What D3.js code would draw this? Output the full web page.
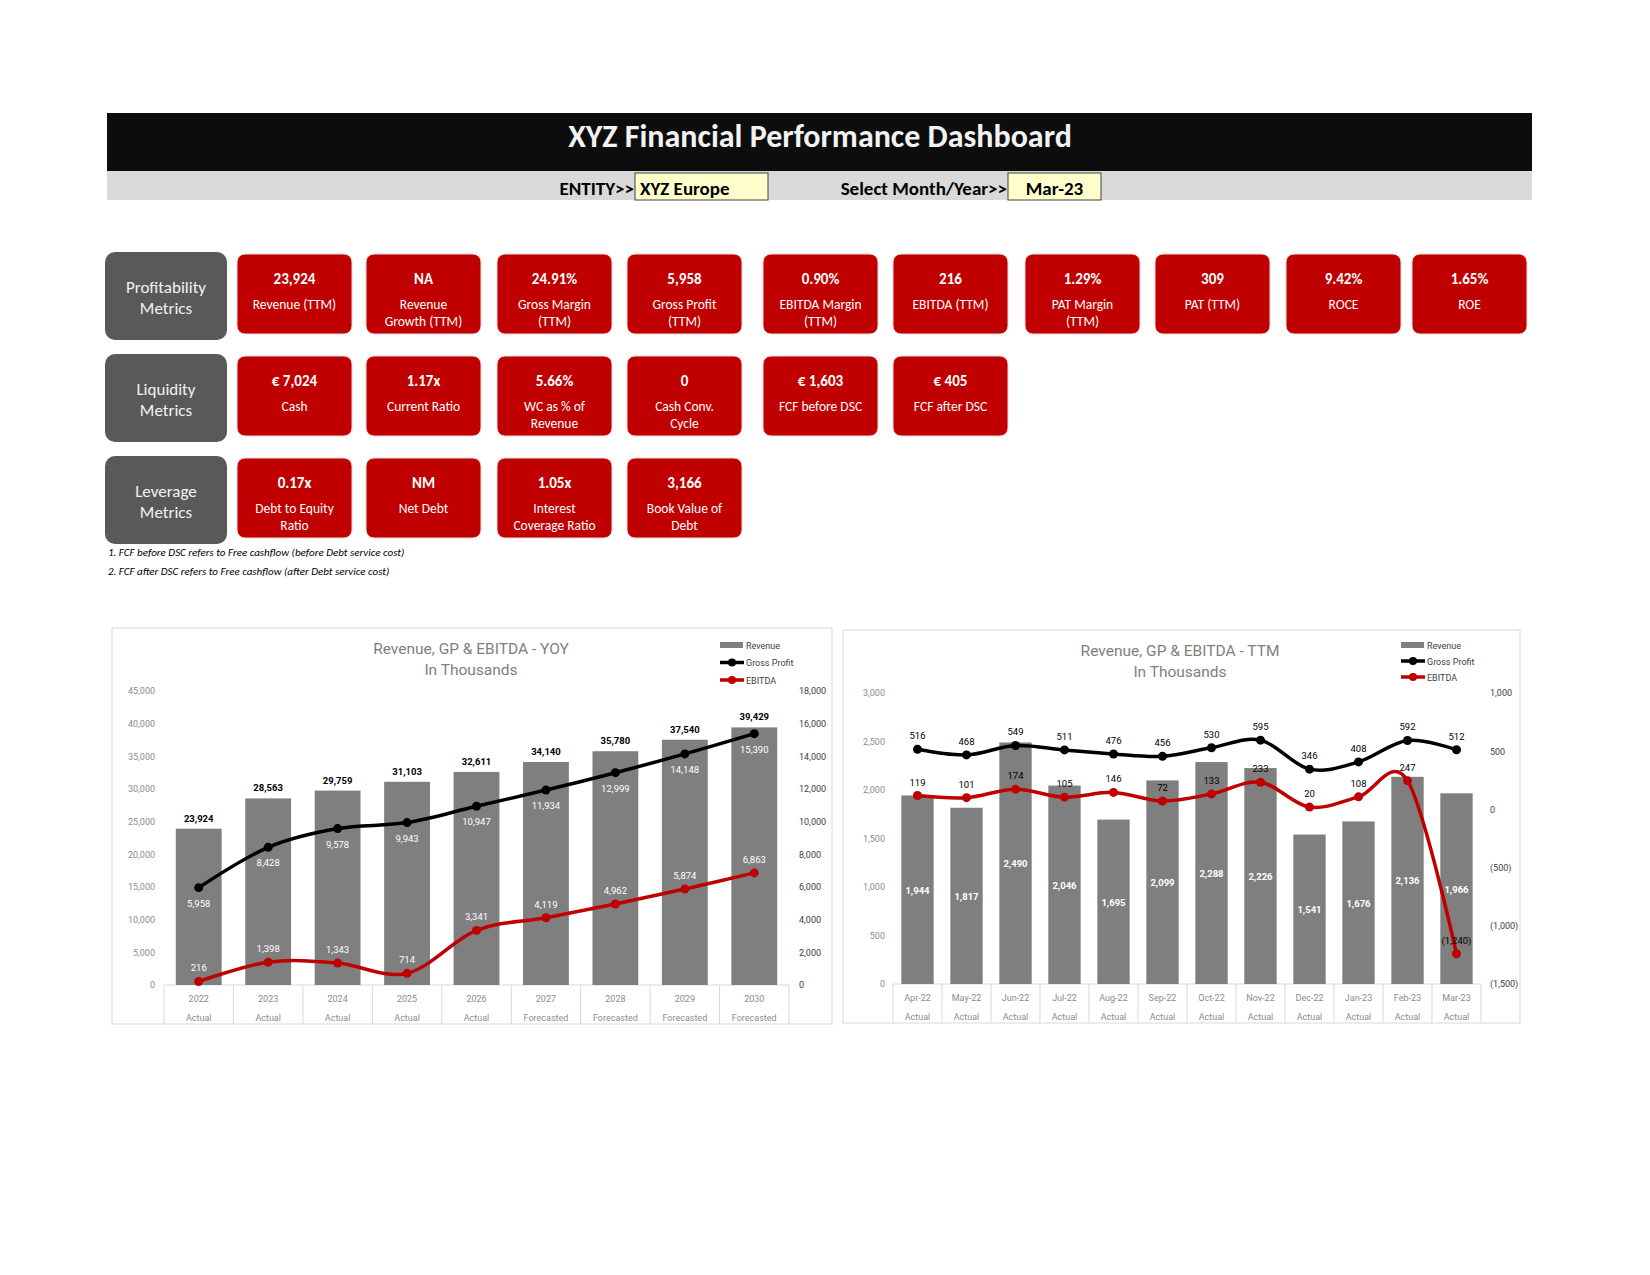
<!DOCTYPE html>
<html>
<head>
<meta charset="utf-8">
<script src="https://cdn.jsdelivr.net/npm/d3@7"></script>
<style>
  body { margin: 0; background: #fff; }
  svg { display: block; }
  .dash { font-family: Carlito, Calibri, Lato, 'Open Sans', sans-serif; }
  .chart text { font-family: 'Liberation Sans Narrow', 'Arial Narrow', Roboto, sans-serif; }
</style>
</head>
<body>
<svg id="dash" width="1650" height="1275"></svg>
<script>
// ---- dashboard values ----
const dashTitle = 'XYZ Financial Performance Dashboard';
const entityName = 'XYZ Europe';
const periodName = 'Mar-23';

const groupNames = [['Profitability', 'Metrics'], ['Liquidity', 'Metrics'], ['Leverage', 'Metrics']];

const profitValues = ['23,924', 'NA', '24.91%', '5,958', '0.90%', '216', '1.29%', '309', '9.42%', '1.65%'];
const profitLabels = [['Revenue (TTM)'], ['Revenue', 'Growth (TTM)'], ['Gross Margin', '(TTM)'], ['Gross Profit', '(TTM)'],
  ['EBITDA Margin', '(TTM)'], ['EBITDA (TTM)'], ['PAT Margin', '(TTM)'], ['PAT (TTM)'], ['ROCE'], ['ROE']];

const liquidityValues = ['€ 7,024', '1.17x', '5.66%', '0', '€ 1,603', '€ 405'];
const liquidityLabels = [['Cash'], ['Current Ratio'], ['WC as % of', 'Revenue'], ['Cash Conv.', 'Cycle'], ['FCF before DSC'], ['FCF after DSC']];

const leverageValues = ['0.17x', 'NM', '1.05x', '3,166'];
const leverageLabels = [['Debt to Equity', 'Ratio'], ['Net Debt'], ['Interest', 'Coverage Ratio'], ['Book Value of', 'Debt']];

const footNotes = [
  '1. FCF before DSC refers to Free cashflow (before Debt service cost)',
  '2. FCF after DSC refers to Free cashflow (after Debt service cost)'
];

// ---- YOY chart ----
const yoyYears = ['2022', '2023', '2024', '2025', '2026', '2027', '2028', '2029', '2030'];
const yoyStatus = ['Actual', 'Actual', 'Actual', 'Actual', 'Actual', 'Forecasted', 'Forecasted', 'Forecasted', 'Forecasted'];
const yoyRevenue = [23924, 28563, 29759, 31103, 32611, 34140, 35780, 37540, 39429];
const yoyGrossProfit = [5958, 8428, 9578, 9943, 10947, 11934, 12999, 14148, 15390];
const yoyEbitda = [216, 1398, 1343, 714, 3341, 4119, 4962, 5874, 6863];

// ---- TTM chart ----
const ttmMonths = ['Apr-22', 'May-22', 'Jun-22', 'Jul-22', 'Aug-22', 'Sep-22', 'Oct-22', 'Nov-22', 'Dec-22', 'Jan-23', 'Feb-23', 'Mar-23'];
const ttmStatus = ['Actual', 'Actual', 'Actual', 'Actual', 'Actual', 'Actual', 'Actual', 'Actual', 'Actual', 'Actual', 'Actual', 'Actual'];
const ttmRevenue = [1944, 1817, 2490, 2046, 1695, 2099, 2288, 2226, 1541, 1676, 2136, 1966];
const ttmGrossProfit = [516, 468, 549, 511, 476, 456, 530, 595, 346, 408, 592, 512];
const ttmEbitda = [119, 101, 174, 105, 146, 72, 133, 233, 20, 108, 247, -1240];

const legendNames = ['Revenue', 'Gross Profit', 'EBITDA'];

const RED = '#c00000';
const svg = d3.select('#dash');
svg.append('rect').attr('width', 1650).attr('height', 1275).attr('fill', '#fff');

// ---- header ----
const dash = svg.append('g').attr('class', 'dash');

dash.append('rect')
  .attr('x', 107).attr('y', 113).attr('width', 1425).attr('height', 58)
  .attr('fill', '#0d0d0d');
dash.append('text')
  .attr('x', 820).attr('y', 147)
  .attr('text-anchor', 'middle')
  .attr('fill', '#f2f2f2')
  .attr('font-size', 32).attr('font-weight', 700)
  .text(dashTitle);

dash.append('rect')
  .attr('x', 107).attr('y', 171).attr('width', 1425).attr('height', 29)
  .attr('fill', '#d9d9d9');

function selector(label, labelRight, boxW, value, centered) {
  dash.append('text')
    .attr('x', labelRight).attr('y', 195)
    .attr('text-anchor', 'end')
    .attr('font-size', 19).attr('font-weight', 700)
    .text(label);
  dash.append('rect')
    .attr('x', labelRight + 1).attr('y', 173).attr('width', boxW).attr('height', 27)
    .attr('fill', '#ffffcc').attr('stroke', '#404040').attr('stroke-width', 1);
  dash.append('text')
    .attr('x', centered ? labelRight + 1 + boxW / 2 : labelRight + 6).attr('y', 195)
    .attr('text-anchor', centered ? 'middle' : 'start')
    .attr('font-size', 19).attr('font-weight', 700)
    .text(value);
}
selector('ENTITY>>', 634, 133, entityName, false);
selector('Select Month/Year>>', 1007, 93, periodName, true);

// ---- metric tiles ----
const colX = [237, 366, 497, 627, 763, 893, 1025, 1155, 1286, 1412];
const rowY = [254, 356, 458];
const tileW = 115, tileH = 80;

function drawRow(r, values, labels) {
  const gy = rowY[r] - 2;
  const head = dash.append('g');
  head.append('rect')
    .attr('x', 105).attr('y', gy).attr('width', 122).attr('height', 88)
    .attr('rx', 10).attr('fill', '#595959');
  head.selectAll('text').data(groupNames[r]).join('text')
    .attr('x', 166).attr('y', (d, i) => gy + 41 + i * 21)
    .attr('text-anchor', 'middle')
    .attr('fill', '#f2f2f2').attr('font-size', 17)
    .text(d => d);

  const tiles = dash.selectAll(null)
    .data(values.map((v, i) => ({value: v, label: labels[i], x: colX[i]})))
    .join('g')
      .attr('transform', d => `translate(${d.x},${rowY[r]})`);

  tiles.append('rect')
    .attr('width', tileW).attr('height', tileH)
    .attr('rx', 8).attr('fill', RED)
    .attr('stroke', '#f4d9d9').attr('stroke-width', 1);

  tiles.append('text')
    .attr('x', tileW / 2).attr('y', 30)
    .attr('text-anchor', 'middle')
    .attr('fill', '#fff').attr('font-size', 15).attr('font-weight', 700)
    .text(d => d.value);

  tiles.each(function (d) {
    d3.select(this).selectAll('text.lbl').data(d.label).join('text')
      .attr('class', 'lbl')
      .attr('x', tileW / 2).attr('y', (t, i) => 55 + i * 17)
      .attr('text-anchor', 'middle')
      .attr('fill', '#fff').attr('font-size', 13.5)
      .text(t => t);
  });
}
drawRow(0, profitValues, profitLabels);
drawRow(1, liquidityValues, liquidityLabels);
drawRow(2, leverageValues, leverageLabels);

dash.selectAll('text.note').data(footNotes).join('text')
  .attr('class', 'note')
  .attr('x', 108).attr('y', (d, i) => 556 + i * 19)
  .attr('font-size', 11).attr('font-style', 'italic')
  .text(d => d);

// ---- combo charts ----
const fmt = d3.format(',');
const fmtNeg = v => v < 0 ? `(${fmt(-v)})` : fmt(v);

function drawChart(o) {
  const g = svg.append('g').attr('class', 'chart');

  g.append('rect')
    .attr('x', o.frame[0]).attr('y', o.frame[1])
    .attr('width', o.frame[2] - o.frame[0]).attr('height', o.frame[3] - o.frame[1])
    .attr('fill', '#fff').attr('stroke', '#d9d9d9');

  g.selectAll('text.title').data(o.title).join('text')
    .attr('class', 'title')
    .attr('x', o.titleX).attr('y', (d, i) => o.frame[1] + 26 + i * 21)
    .attr('text-anchor', 'middle')
    .attr('fill', '#7f7f7f').attr('font-size', 15.5)
    .text(d => d);

  const x = d3.scaleBand().domain(o.cats).range([o.x0, o.x1])
    .paddingInner(0.34).paddingOuter(0.17);
  const yL = d3.scaleLinear().domain(o.leftDomain).range([o.yBase, o.yTop]);
  const yR = d3.scaleLinear().domain(o.rightDomain).range([o.yBase, o.yTop]);
  const cx = c => x(c) + x.bandwidth() / 2;

  // axes
  const left = g.append('g')
    .attr('transform', `translate(${o.leftLabelX},0)`)
    .call(d3.axisLeft(yL).tickValues(d3.range(o.leftDomain[0], o.leftDomain[1] + 1, o.leftStep))
      .tickFormat(fmt).tickSize(0).tickPadding(0));
  left.select('.domain').remove();
  left.selectAll('text').attr('fill', '#8c8c8c').attr('font-size', 9);

  const right = g.append('g')
    .attr('transform', `translate(${o.rightLabelX},0)`)
    .call(d3.axisRight(yR).tickValues(d3.range(o.rightDomain[0], o.rightDomain[1] + 1, o.rightStep))
      .tickFormat(fmtNeg).tickSize(0).tickPadding(0));
  right.select('.domain').remove();
  right.selectAll('text').attr('fill', '#404040').attr('font-size', 9);

  // category table under the plot
  const step = x.step();
  g.append('line')
    .attr('x1', o.x0).attr('x2', o.x1).attr('y1', o.yBase).attr('y2', o.yBase)
    .attr('stroke', '#d9d9d9');
  g.selectAll('line.sep').data(d3.range(o.cats.length + 1)).join('line')
    .attr('class', 'sep')
    .attr('x1', i => o.x0 + i * step).attr('x2', i => o.x0 + i * step)
    .attr('y1', o.yBase).attr('y2', o.frame[3])
    .attr('stroke', '#d9d9d9');
  g.selectAll('text.cat').data(o.cats).join('text')
    .attr('class', 'cat')
    .attr('x', cx).attr('y', o.yBase + 17)
    .attr('text-anchor', 'middle').attr('fill', '#8c8c8c').attr('font-size', 9)
    .text(d => d);
  g.selectAll('text.status').data(o.status).join('text')
    .attr('class', 'status')
    .attr('x', (d, i) => cx(o.cats[i])).attr('y', o.yBase + 36)
    .attr('text-anchor', 'middle').attr('fill', '#8c8c8c').attr('font-size', 9)
    .text(d => d);

  // revenue bars
  g.selectAll('rect.bar').data(o.revenue).join('rect')
    .attr('class', 'bar')
    .attr('x', (d, i) => x(o.cats[i]))
    .attr('y', d => yL(d))
    .attr('width', x.bandwidth())
    .attr('height', d => o.yBase - yL(d))
    .attr('fill', '#7f7f7f');

  // smoothed lines
  const line = d3.line()
    .x((d, i) => cx(o.cats[i]))
    .y(d => yR(d))
    .curve(d3.curveCardinal.tension(0));

  [[o.gp, '#000'], [o.ebitda, RED]].forEach(([vals, col]) => {
    g.append('path')
      .attr('d', line(vals))
      .attr('fill', 'none').attr('stroke', col).attr('stroke-width', 3.5)
      .attr('stroke-linecap', 'round');
    g.selectAll(null).data(vals).join('circle')
      .attr('cx', (d, i) => cx(o.cats[i])).attr('cy', d => yR(d))
      .attr('r', 4.5).attr('fill', col);
  });

  // data labels
  g.selectAll(null).data(o.revenue).join('text')
    .attr('x', (d, i) => cx(o.cats[i]))
    .attr('y', d => o.revInside ? (yL(d) + o.yBase) / 2 + 4 : yL(d) - 7)
    .attr('text-anchor', 'middle')
    .attr('fill', o.revInside ? '#fff' : '#000')
    .attr('font-size', 9.5).attr('font-weight', 700)
    .text(d => fmt(d));

  g.selectAll(null).data(o.gp).join('text')
    .attr('x', (d, i) => cx(o.cats[i]))
    .attr('y', d => yR(d) + o.gpDy)
    .attr('text-anchor', 'middle')
    .attr('fill', o.lineLabelColor).attr('font-size', 9.5)
    .text(d => fmtNeg(d));

  g.selectAll(null).data(o.ebitda).join('text')
    .attr('x', (d, i) => cx(o.cats[i]))
    .attr('y', d => yR(d) - 10)
    .attr('text-anchor', 'middle')
    .attr('fill', o.lineLabelColor).attr('font-size', 9.5)
    .text(d => fmtNeg(d));

  // legend
  const lg = g.append('g').attr('transform', `translate(${o.legend[0]},${o.legend[1]})`);
  const items = lg.selectAll('g').data(legendNames).join('g')
    .attr('transform', (d, i) => `translate(0,${i * o.legendGap})`);
  items.filter((d, i) => i === 0).append('rect')
    .attr('x', 0).attr('y', -3).attr('width', 23).attr('height', 6).attr('fill', '#7f7f7f');
  items.filter((d, i) => i > 0).append('line')
    .attr('x1', 0).attr('x2', 24).attr('y1', 0).attr('y2', 0)
    .attr('stroke', (d, i) => i === 0 ? '#000' : RED).attr('stroke-width', 3.5);
  items.filter((d, i) => i > 0).append('circle')
    .attr('cx', 12).attr('cy', 0).attr('r', 4)
    .attr('fill', (d, i) => i === 0 ? '#000' : RED);
  items.append('text')
    .attr('x', 26).attr('y', 3.5)
    .attr('fill', '#404040').attr('font-size', 9)
    .text(d => d);
}

drawChart({
  frame: [112, 628, 832, 1024],
  title: ['Revenue, GP & EBITDA - YOY', 'In Thousands'],
  titleX: 471,
  cats: yoyYears, status: yoyStatus,
  revenue: yoyRevenue, gp: yoyGrossProfit, ebitda: yoyEbitda,
  x0: 164, x1: 789, yBase: 985, yTop: 691,
  leftDomain: [0, 45000], leftStep: 5000,
  rightDomain: [0, 18000], rightStep: 2000,
  leftLabelX: 155, rightLabelX: 799,
  revInside: false, gpDy: 19, lineLabelColor: '#fff',
  legend: [720, 645], legendGap: 17.5
});

drawChart({
  frame: [843, 630, 1520, 1023],
  title: ['Revenue, GP & EBITDA - TTM', 'In Thousands'],
  titleX: 1180,
  cats: ttmMonths, status: ttmStatus,
  revenue: ttmRevenue, gp: ttmGrossProfit, ebitda: ttmEbitda,
  x0: 893, x1: 1481, yBase: 984, yTop: 693,
  leftDomain: [0, 3000], leftStep: 500,
  rightDomain: [-1500, 1000], rightStep: 500,
  leftLabelX: 885, rightLabelX: 1490,
  revInside: true, gpDy: -10, lineLabelColor: '#000',
  legend: [1401, 645], legendGap: 16
});
</script>
</body>
</html>
